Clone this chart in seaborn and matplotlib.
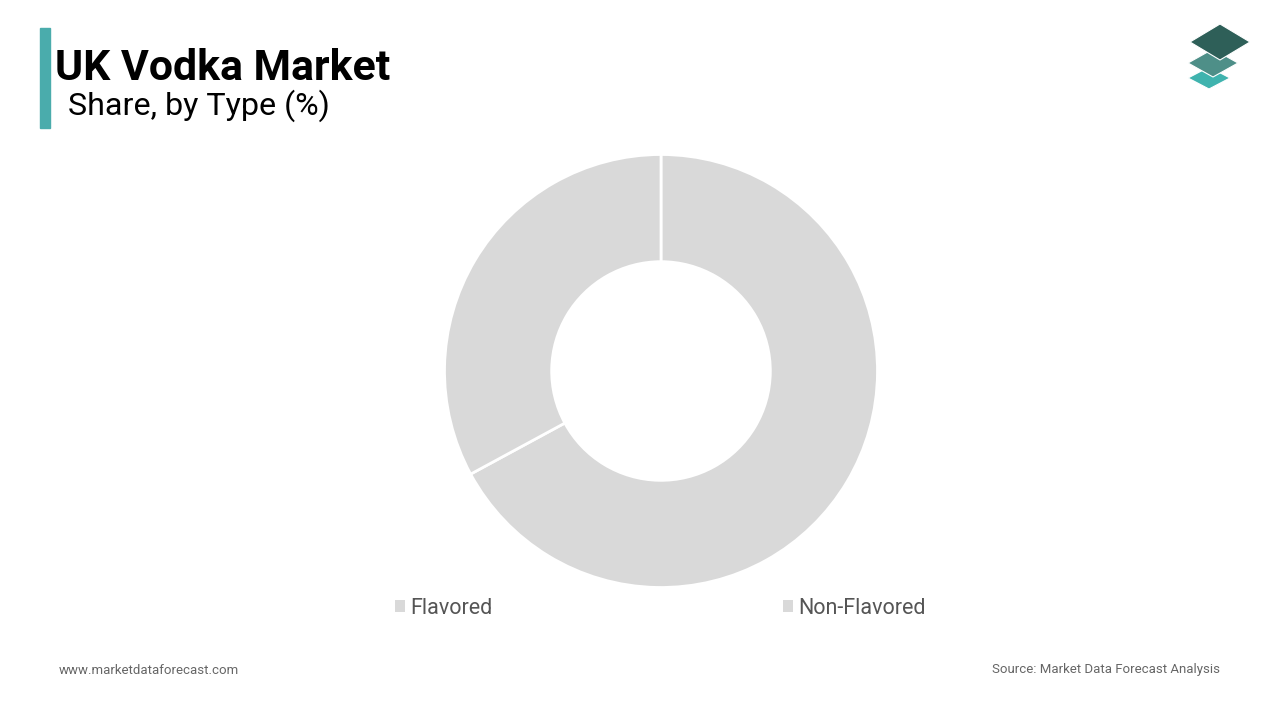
import matplotlib
matplotlib.use('Agg')
import matplotlib.pyplot as plt
import seaborn as sns
from matplotlib.patches import Polygon, Rectangle

# data
types = ['Flavored', 'Non-Flavored']
share = [67.1, 32.9]
slice_color = '#d9d9d9'

sns.set_theme(style='white')
plt.rcParams['font.family'] = ['Roboto', 'DejaVu Sans']

W, H = 1280, 720
fig = plt.figure(figsize=(12.8, 7.2), dpi=100)
fig.patch.set_facecolor('white')


def fx(px):
    return px / W


def fy(py):
    return 1 - py / H


# donut, centre (661, 371), outer radius ~216 px
cx, cy, r = 661, 371, 216.5
ax = fig.add_axes([fx(cx - r), fy(cy + r), 2 * r / W, 2 * r / H])
palette = sns.color_palette([slice_color] * len(types))
wedges, _ = ax.pie(
    share,
    colors=palette,
    startangle=90,
    counterclock=False,
    radius=1,
    wedgeprops=dict(width=0.495, edgecolor='white', linewidth=2),
)
ax.set_xlim(-1, 1)
ax.set_ylim(-1, 1)
ax.set_aspect('equal')
ax.axis('off')

# legend below the donut
leg = fig.legend(
    wedges, types,
    loc='center left',
    bbox_to_anchor=(fx(395), fy(608)),
    ncol=2,
    frameon=False,
    fontsize=15.5,
    labelcolor='#555555',
    handlelength=0.45,
    handleheight=0.45,
    handletextpad=0.25,
    columnspacing=13.5,
    borderpad=0,
    borderaxespad=0,
)
for h in leg.legend_handles:
    h.set_edgecolor('none')
    h.set_linewidth(0)

# title block
fig.patches.append(Rectangle((fx(40), fy(128)), fx(10), 100 / H,
                             transform=fig.transFigure, color='#4aacac', zorder=5))
fig.text(fx(55), fy(80), 'UK Vodka Market', fontsize=30.8, fontweight='bold',
         color='black', ha='left', va='baseline')
fig.text(fx(68), fy(115), 'Share, by Type (%)', fontsize=23.2,
         color='black', ha='left', va='baseline')

# logo: three stacked diamonds
logo = [
    ((1209, 78), 21, 11, '#3fb3ae'),
    ((1213, 63), 25, 14, '#4e8f88'),
    ((1220, 42), 30, 18, '#2e5f58'),
]
for (lx, ly), hw, hh, col in logo:
    pts = [(fx(lx - hw), fy(ly)), (fx(lx), fy(ly - hh)),
           (fx(lx + hw), fy(ly)), (fx(lx), fy(ly + hh))]
    fig.patches.append(Polygon(pts, closed=True, transform=fig.transFigure,
                               facecolor=col, edgecolor='white', linewidth=0.8,
                               zorder=5))

# footer
fig.text(fx(59), fy(670), 'www.marketdataforecast.com', fontsize=9.5,
         color='#666666', ha='left', va='center')
fig.text(fx(1220), fy(670), 'Source: Market Data Forecast Analysis', fontsize=9.5,
         color='#666666', ha='right', va='center')

fig.savefig('out.png', dpi=100, facecolor='white')
